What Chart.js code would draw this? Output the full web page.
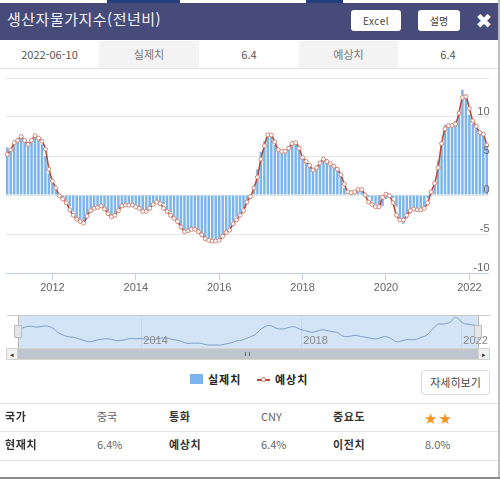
<!DOCTYPE html>
<html lang="ko">
<head>
<meta charset="utf-8">
<title>생산자물가지수(전년비)</title>
<script src="https://cdn.jsdelivr.net/npm/chart.js@4"></script>
<style>
  * { box-sizing: border-box; }
  html, body { margin: 0; padding: 0; width: 500px; height: 479px; overflow: hidden; background: #fff; }
  body { position: relative; font-family: "Noto Sans CJK KR", "Noto Sans", sans-serif; color: #444; }
  .abs { position: absolute; }
  .cell { position: absolute; top: 41px; height: 27px; line-height: 27px; text-align: center; font-size: 11px; color: #555; }
  .grey { background: #f3f3f3; }
  .btn { position: absolute; background: #fff; border-radius: 3px; text-align: center; color: #444; font-size: 10px; }
  .lbl { position: absolute; font-size: 11px; font-weight: 700; color: #333; letter-spacing: .6px; }
  .val { position: absolute; font-size: 11px; color: #666; }
  .rule { position: absolute; left: 0; width: 498px; height: 1px; background: #e4e4e4; }
</style>
</head>
<body>
<!-- 상단 헤더 -->
<div class="abs" style="left:107px;top:0;width:73px;height:3px;background:#23407c"></div>
<div class="abs" style="left:306px;top:0;width:37px;height:3px;background:#23407c"></div>
<div class="abs" style="left:0;top:3px;width:498px;height:37px;background:#474b7a"></div>
<div class="abs" style="left:7px;top:7px;height:24px;line-height:24px;font-size:15px;color:#f4f4f8;letter-spacing:.5px;white-space:nowrap">생산자물가지수(전년비)</div>
<div class="btn" style="left:351px;top:10px;width:50px;height:21px;line-height:21px;letter-spacing:.5px">Excel</div>
<div class="btn" style="left:418px;top:10px;width:42px;height:21px;line-height:21px">설명</div>
<div class="abs" style="left:475px;top:9px;width:18px;height:26px;line-height:24px;font-size:20px;font-weight:700;color:#fff;text-align:center;font-family:'DejaVu Sans'">✖</div>

<div class="cell" style="left:0;width:99px">2022-06-10</div>
<div class="cell grey" style="left:99px;width:100px;color:#777">실제치</div>
<div class="cell" style="left:199px;width:100px">6.4</div>
<div class="cell grey" style="left:299px;width:99px;color:#777">예상치</div>
<div class="cell" style="left:398px;width:100px">6.4</div>
<div class="rule" style="top:68px"></div>

<!-- 메인 차트 -->
<div class="abs" style="left:0;top:70px;width:500px;height:230px"><canvas id="mainChart"></canvas></div>

<!-- 네비게이터 -->
<div class="abs" style="left:18px;top:316px;width:460px;height:32px;background:#d4e4f7"></div>
<div class="abs" style="left:7px;top:315px;width:483px;height:1px;background:#c8c8c8"></div>
<div class="abs" style="left:0;top:310px;width:500px;height:40px"><canvas id="navChart"></canvas></div>
<div class="abs" style="left:18px;top:316px;width:1px;height:32px;background:#b8b8b8"></div>
<div class="abs" style="left:478px;top:316px;width:1px;height:32px;background:#b8b8b8"></div>
<div class="abs" style="left:14px;top:325px;width:8px;height:13px;background:#e6e6e6;border:1px solid #bbb;border-radius:1px"></div>
<div class="abs" style="left:474px;top:325px;width:8px;height:13px;background:#e6e6e6;border:1px solid #bbb;border-radius:1px"></div>
<div class="abs" style="left:6px;top:348px;width:484px;height:12px;background:#bfc6ce;border:1px solid #d2d2d2"></div>
<div class="abs" style="left:6px;top:348px;width:12px;height:12px;background:#f0f0f0;border:1px solid #d2d2d2;font-size:7px;line-height:10px;text-align:center;color:#333">◂</div>
<div class="abs" style="left:478px;top:348px;width:12px;height:12px;background:#f0f0f0;border:1px solid #d2d2d2;font-size:7px;line-height:10px;text-align:center;color:#333">▸</div>
<div class="abs" style="left:245px;top:352px;width:5px;height:4px;border-left:1px solid #666;border-right:1px solid #666"></div>

<!-- 범례 -->
<div class="abs" style="left:190px;top:374px;width:13px;height:10px;background:#7cb5ec"></div>
<div class="lbl" style="left:208px;top:371px;font-size:11px;color:#222;letter-spacing:1px">실제치</div>
<div class="abs" style="left:257px;top:379px;width:13px;height:1.5px;background:#b94a36"></div>
<div class="abs" style="left:261px;top:377px;width:5px;height:5px;background:#fff;border:1px solid #c9705f;border-radius:50%"></div>
<div class="lbl" style="left:275px;top:371px;font-size:11px;color:#222;letter-spacing:1px">예상치</div>
<div class="btn" style="left:421px;top:370px;width:69px;height:25px;line-height:23px;border:1px solid #ddd;font-size:11px">자세히보기</div>

<!-- 하단 표 -->
<div class="rule" style="top:403px"></div>
<div class="rule" style="top:431px"></div>
<div class="rule" style="top:460px"></div>
<div class="lbl" style="left:5px;top:408px">국가</div>
<div class="val" style="left:97px;top:408px">중국</div>
<div class="lbl" style="left:169px;top:408px">통화</div>
<div class="val" style="left:261px;top:408px">CNY</div>
<div class="lbl" style="left:333px;top:408px">중요도</div>
<div class="abs" style="left:424px;top:409px;font-size:15px;line-height:20px;color:#f7931e;font-family:'DejaVu Sans';letter-spacing:1px">★★</div>
<div class="lbl" style="left:5px;top:436px">현재치</div>
<div class="val" style="left:97px;top:436px">6.4%</div>
<div class="lbl" style="left:169px;top:436px">예상치</div>
<div class="val" style="left:261px;top:436px">6.4%</div>
<div class="lbl" style="left:333px;top:436px">이전치</div>
<div class="val" style="left:425px;top:436px">8.0%</div>

<div class="abs" style="left:498px;top:0;width:2px;height:479px;background:#bdbdbd"></div>
<div class="abs" style="left:0;top:477px;width:500px;height:2px;background:#8a8a8a"></div>

<script>
// 발표월 (2010-12 ~ 2022-06)
const months = [
  '2010-12',
  '2011-01','2011-02','2011-03','2011-04','2011-05','2011-06','2011-07','2011-08','2011-09','2011-10','2011-11','2011-12',
  '2012-01','2012-02','2012-03','2012-04','2012-05','2012-06','2012-07','2012-08','2012-09','2012-10','2012-11','2012-12',
  '2013-01','2013-02','2013-03','2013-04','2013-05','2013-06','2013-07','2013-08','2013-09','2013-10','2013-11','2013-12',
  '2014-01','2014-02','2014-03','2014-04','2014-05','2014-06','2014-07','2014-08','2014-09','2014-10','2014-11','2014-12',
  '2015-01','2015-02','2015-03','2015-04','2015-05','2015-06','2015-07','2015-08','2015-09','2015-10','2015-11','2015-12',
  '2016-01','2016-02','2016-03','2016-04','2016-05','2016-06','2016-07','2016-08','2016-09','2016-10','2016-11','2016-12',
  '2017-01','2017-02','2017-03','2017-04','2017-05','2017-06','2017-07','2017-08','2017-09','2017-10','2017-11','2017-12',
  '2018-01','2018-02','2018-03','2018-04','2018-05','2018-06','2018-07','2018-08','2018-09','2018-10','2018-11','2018-12',
  '2019-01','2019-02','2019-03','2019-04','2019-05','2019-06','2019-07','2019-08','2019-09','2019-10','2019-11','2019-12',
  '2020-01','2020-02','2020-03','2020-04','2020-05','2020-06','2020-07','2020-08','2020-09','2020-10','2020-11','2020-12',
  '2021-01','2021-02','2021-03','2021-04','2021-05','2021-06','2021-07','2021-08','2021-09','2021-10','2021-11','2021-12',
  '2022-01','2022-02','2022-03','2022-04','2022-05','2022-06'
];

// 실제치
const actual = [
  6.1, 5.9,
  6.6, 7.2, 7.3, 6.8, 6.8, 7.1, 7.5, 7.3, 6.5, 5.0, 2.7, 1.7,
  0.7, 0.0, -0.3, -0.7, -1.4, -2.1, -2.9, -3.5, -3.6, -2.8, -2.2, -1.9,
  -1.6, -1.6, -1.9, -2.6, -2.9, -2.7, -2.3, -1.6, -1.3, -1.5, -1.4, -1.4,
  -1.6, -2.0, -2.3, -2.0, -1.4, -1.1, -0.9, -1.2, -1.8, -2.2, -2.7, -3.3,
  -4.3, -4.8, -4.6, -4.6, -4.6, -4.8, -5.4, -5.9, -5.9, -5.9, -5.9, -5.9,
  -5.3, -4.9, -4.3, -3.4, -2.8, -2.6, -1.7, -0.8, 0.1, 1.2, 3.3, 5.5,
  6.9, 7.8, 7.6, 6.4, 5.5, 5.5, 5.5, 6.3, 6.9, 6.9, 5.8, 4.9,
  4.3, 3.7, 3.1, 3.4, 4.1, 4.7, 4.6, 4.1, 3.6, 3.3, 2.7, 0.9,
  0.1, 0.1, 0.4, 0.9, 0.6, 0.0, -0.3, -0.8, -1.2, -1.6, -1.4, -0.5,
  0.1, -0.4, -1.5, -3.1, -3.7, -3.0, -2.4, -2.0, -2.1, -2.1, -1.5, -0.4,
  0.3, 1.7, 4.4, 6.8, 9.0, 8.8, 9.0, 9.5, 10.7, 13.5, 12.9, 10.3,
  9.1, 8.8, 8.3, 8.0, 6.4
];

// 예상치
const forecast = [
  5.2, 5.8,
  6.7, 7.0, 7.5, 7.0, 6.5, 7.0, 7.6, 7.3, 6.9, 5.9, 3.3, 1.8,
  0.9, -0.1, -0.5, -1.0, -1.9, -2.6, -3.1, -3.4, -3.6, -2.7, -2.0, -1.7,
  -1.6, -1.4, -1.8, -2.4, -2.8, -2.6, -2.0, -1.4, -1.3, -1.3, -1.3, -1.5,
  -1.7, -2.1, -2.1, -1.7, -1.2, -0.9, -1.1, -1.7, -2.1, -2.6, -3.0, -3.4,
  -4.1, -4.7, -4.6, -4.4, -4.4, -4.7, -5.1, -5.6, -5.8, -5.9, -5.9, -5.8,
  -5.3, -4.8, -4.5, -3.7, -3.2, -2.6, -2.0, -0.9, -0.2, 0.9, 2.3, 4.6,
  6.3, 7.7, 7.7, 6.8, 5.8, 5.6, 5.6, 6.0, 6.6, 6.7, 6.0, 4.8,
  4.3, 3.8, 3.2, 3.5, 4.1, 4.6, 4.3, 4.0, 3.7, 3.3, 2.6, 1.4,
  0.4, 0.3, 0.4, 0.7, 0.7, 0.0, -0.9, -1.2, -1.5, -1.5, -0.3, 0.1,
  -0.1, -1.0, -2.6, -3.2, -3.2, -2.6, -2.0, -1.8, -1.9, -1.9, -1.7, -1.0,
  0.4, 1.5, 3.5, 6.6, 8.5, 8.9, 8.9, 9.1, 10.5, 12.5, 12.6, 11.1,
  9.5, 8.8, 8.0, 7.8, 6.4
];

// 눈금 라벨
const mainTickMonths = ['2012-01', '2014-01', '2016-01', '2018-01', '2020-01', '2022-01'];
const navTickMonths = ['2014-01', '2018-01', '2022-01'];
const yTickValues = [10, 5, 0, -5, -10];

function keepTicks(list) {
  return axis => {
    axis.ticks = axis.ticks.filter(t => list.includes(months[t.value]));
  };
}

new Chart(document.getElementById('mainChart'), {
  data: {
    labels: months,
    datasets: [
      {
        type: 'line',
        label: '예상치',
        data: forecast,
        order: 1,
        borderColor: '#b94a36',
        borderWidth: 1.6,
        tension: 0.3,
        pointRadius: 2,
        pointBackgroundColor: '#fff',
        pointBorderColor: '#cf8577',
        pointBorderWidth: 1
      },
      {
        type: 'bar',
        label: '실제치',
        data: actual,
        order: 2,
        backgroundColor: '#7cb5ec',
        categoryPercentage: 1,
        barPercentage: 0.72
      }
    ]
  },
  options: {
    responsive: true,
    maintainAspectRatio: false,
    animation: false,
    layout: { padding: { left: 5.5, right: 9.5, top: 8, bottom: 0 } },
    plugins: { legend: { display: false }, tooltip: { enabled: false } },
    scales: {
      x: {
        grid: { offset: false, drawOnChartArea: false, drawTicks: true, tickLength: 7, tickColor: '#c0d0e0' },
        border: { color: '#c0d0e0' },
        afterBuildTicks: keepTicks(mainTickMonths),
        afterFit: axis => { axis.height = 27; },
        ticks: {
          autoSkip: false,
          maxRotation: 0,
          padding: 1,
          color: '#666',
          font: { family: 'Liberation Sans', size: 11 },
          callback: function (v) { return months[v].slice(0, 4); }
        }
      },
      y: {
        position: 'right',
        min: -10,
        max: 15,
        grid: { color: '#e6e6e6', drawTicks: false },
        border: { display: false },
        ticks: {
          stepSize: 5,
          mirror: true,
          padding: 1,
          z: 1,
          color: '#666',
          font: { family: 'Liberation Sans', size: 11, lineHeight: 1 },
          // 라벨을 그리드선 위로 올림
          callback: v => yTickValues.includes(v) ? [String(v), ''] : ''
        }
      }
    }
  }
});

// 네비게이터 연도 라벨은 플롯 안쪽에 그림
const navYearLabels = {
  id: 'navYearLabels',
  afterDraw(chart) {
    const ctx = chart.ctx;
    const xScale = chart.scales.x;
    ctx.save();
    ctx.font = '11px "Liberation Sans"';
    ctx.fillStyle = '#888';
    ctx.textBaseline = 'middle';
    navTickMonths.forEach(m => {
      ctx.fillText(m.slice(0, 4), xScale.getPixelForValue(months.indexOf(m)) + 2, chart.chartArea.bottom - 7);
    });
    ctx.restore();
  }
};

new Chart(document.getElementById('navChart'), {
  type: 'line',
  plugins: [navYearLabels],
  data: {
    labels: months,
    datasets: [{
      data: actual,
      borderColor: '#7f9fc2',
      borderWidth: 1,
      tension: 0.3,
      pointRadius: 0
    }]
  },
  options: {
    responsive: true,
    maintainAspectRatio: false,
    animation: false,
    layout: { padding: { left: 18, right: 22, top: 6, bottom: 0 } },
    plugins: { legend: { display: false }, tooltip: { enabled: false } },
    scales: {
      x: {
        offset: false,
        grid: { color: '#c8d8ea', drawTicks: false, offset: false },
        border: { display: false },
        afterBuildTicks: keepTicks(navTickMonths),
        afterFit: axis => { axis.height = 2; },
        ticks: { autoSkip: false, maxRotation: 0, display: false }
      },
      y: { display: false, min: -8, max: 14.5 }
    }
  }
});
</script>
</body>
</html>
